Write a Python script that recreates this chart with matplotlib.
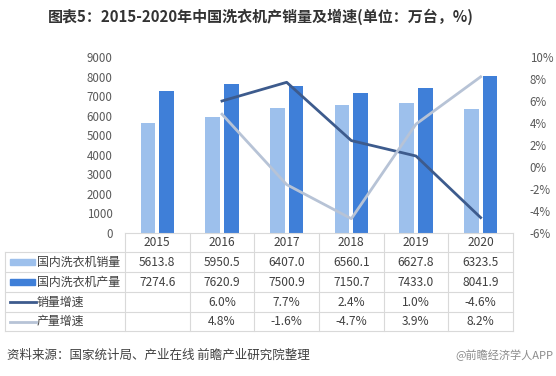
import matplotlib
matplotlib.use('Agg')
import matplotlib.pyplot as plt
import matplotlib.transforms as mtransforms
from matplotlib.lines import Line2D
from matplotlib.patches import Rectangle
import numpy as np

plt.rcParams['font.family'] = ['Noto Sans CJK SC', 'DejaVu Sans']

# 数据
years = ['2015', '2016', '2017', '2018', '2019', '2020']
sales = [5613.8, 5950.5, 6407.0, 6560.1, 6627.8, 6323.5]
output = [7274.6, 7620.9, 7500.9, 7150.7, 7433.0, 8041.9]
sales_growth = [None, 6.0, 7.7, 2.4, 1.0, -4.6]
output_growth = [None, 4.8, -1.6, -4.7, 3.9, 8.2]

c_light = '#9DC0EC'
c_dark = '#3F7FD8'
c_sg = '#3D5B8D'
c_og = '#B7C3D6'
c_text = '#404040'
c_grid = '#D9D9D9'

W, H = 556, 376
fig = plt.figure(figsize=(W / 100, H / 100), dpi=100)


def fx(px):
    return px / W


def fy(py):
    return 1 - py / H


ax = fig.add_axes([fx(125), fy(233), fx(513) - fx(125), fy(57) - fy(233)])
x = np.arange(len(years))
ax.bar(x - 0.145, sales, width=0.225, color=c_light)
ax.bar(x + 0.145, output, width=0.225, color=c_dark)
ax.set_xlim(-0.5, len(years) - 0.5)
ax.set_ylim(0, 9000)
ax.set_yticks(range(0, 9001, 1000))
ax.set_xticks([])
ax.tick_params(axis='y', length=0, pad=9, labelsize=8.3, labelcolor='#595959')
for s in ax.spines.values():
    s.set_visible(False)

ax2 = ax.twinx()
gx = [i for i, v in enumerate(sales_growth) if v is not None]
ax2.plot(gx, [sales_growth[i] for i in gx], color=c_sg, lw=2)
ax2.plot(gx, [output_growth[i] for i in gx], color=c_og, lw=2)
ax2.set_ylim(-6, 10)
ax2.set_yticks(range(-6, 11, 2))
ax2.set_yticklabels([f'{v}%' for v in range(-6, 11, 2)])
ax2.tick_params(axis='y', length=0, pad=12, labelsize=8.3, labelcolor='#595959')
for s in ax2.spines.values():
    s.set_visible(False)
ax2.set_xlim(-0.5, len(years) - 0.5)

# 数据表
tr = mtransforms.blended_transform_factory(ax.transData, fig.transFigure)
rows = [233, 252, 272, 292, 312, 331]


def hline(x0, x1, py):
    fig.add_artist(Line2D([fx(x0), fx(x1)], [fy(py), fy(py)], color=c_grid, lw=0.8))


def vline(px, y0, y1):
    fig.add_artist(Line2D([fx(px), fx(px)], [fy(y0), fy(y1)], color=c_grid, lw=0.8))


hline(125, 513, rows[0])
for r in rows[1:]:
    hline(5, 513, r)
vline(5, rows[1], rows[-1])
for k in range(len(years) + 1):
    fig.add_artist(Line2D([k - 0.5, k - 0.5], [fy(rows[0]), fy(rows[-1])],
                          transform=tr, color=c_grid, lw=0.8))

fs = 8.6
mid = [(rows[i] + rows[i + 1]) / 2 for i in range(len(rows) - 1)]
for i, yr in enumerate(years):
    fig.text(i, fy(mid[0]), yr, transform=tr, ha='center', va='center', fontsize=fs, color=c_text)
    fig.text(i, fy(mid[1]), f'{sales[i]:.1f}', transform=tr, ha='center', va='center', fontsize=fs, color=c_text)
    fig.text(i, fy(mid[2]), f'{output[i]:.1f}', transform=tr, ha='center', va='center', fontsize=fs, color=c_text)
    if sales_growth[i] is not None:
        fig.text(i, fy(mid[3]), f'{sales_growth[i]:.1f}%', transform=tr, ha='center', va='center', fontsize=fs, color=c_text)
    if output_growth[i] is not None:
        fig.text(i, fy(mid[4]), f'{output_growth[i]:.1f}%', transform=tr, ha='center', va='center', fontsize=fs, color=c_text)

labels = ['国内洗衣机销量', '国内洗衣机产量', '销量增速', '产量增速']
for j, lab in enumerate(labels):
    yc = mid[j + 1]
    if j < 2:
        fig.add_artist(Rectangle((fx(10), fy(yc + 3)), fx(35) - fx(10), fy(yc - 3) - fy(yc + 3),
                                 color=[c_light, c_dark][j], transform=fig.transFigure))
    else:
        fig.add_artist(Line2D([fx(10), fx(36)], [fy(yc), fy(yc)], color=[c_sg, c_og][j - 2], lw=2))
    fig.text(fx(37), fy(yc), lab, ha='left', va='center', fontsize=fs, color=c_text)

# 标题与来源
fig.text(fx(261), fy(17), '图表5：2015-2020年中国洗衣机产销量及增速(单位：万台，%)',
         ha='center', va='center', fontsize=10.8, fontweight='bold', color='#333333')
fig.text(fx(7), fy(355), '资料来源：国家统计局、产业在线 前瞻产业研究院整理',
         ha='left', va='center', fontsize=9, color=c_text)
fig.text(fx(553), fy(355), '@前瞻经济学人APP', ha='right', va='center', fontsize=8, color='#8C8C8C')

fig.savefig('out.png', dpi=100)
